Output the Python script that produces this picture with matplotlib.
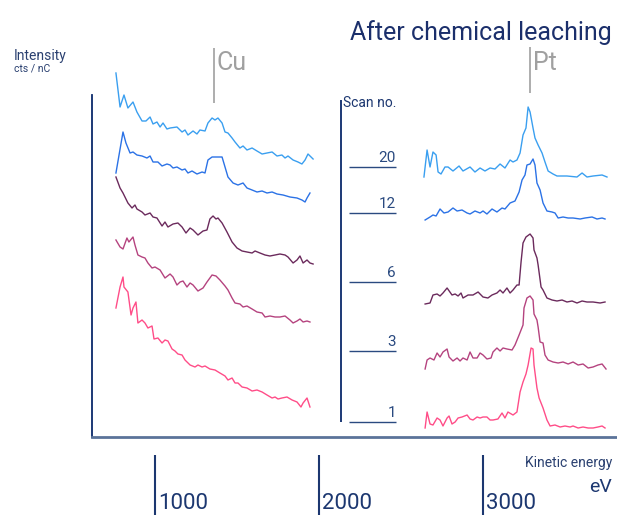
import numpy as np
import matplotlib
matplotlib.use('Agg')
import matplotlib.pyplot as plt

plt.rcParams['font.family'] = ['Roboto', 'DejaVu Sans']

# scan numbers, colours and vertical offsets (cts/nC) of the stacked spectra
scans = ['20', '12', '6', '3', '1']
colors = ['#3a9ff0', '#2b72e6', '#6b2a5c', '#b5437f', '#ff4d88']
offsets = [265, 222, 153, 84, 15]
label_levels = [270, 224, 155, 86, 15]

# Cu region, kinetic energy (eV) / intensity
cu_e20 = [762, 787, 811, 835, 866, 890, 921, 945, 970, 988, 1012, 1031, 1049, 1073, 1092, 1134, 1165, 1183, 1201, 1232,
          1256, 1274, 1305, 1323, 1348, 1366, 1384, 1409, 1427, 1445, 1470, 1488, 1518, 1537, 1561, 1592, 1622, 1653, 1683, 1714,
          1744, 1774, 1793, 1811, 1842, 1872, 1896, 1915, 1933, 1964]
cu_i20 = [99, 65, 77, 64, 70, 60, 51, 51, 55, 48, 50, 45, 49, 43, 44, 45, 40, 42, 37, 41,
          38, 42, 41, 49, 54, 52, 54, 49, 40, 39, 34, 30, 24, 26, 22, 24, 21, 18, 19, 20,
          16, 17, 14, 16, 12, 10, 8, 12, 18, 13]

cu_e12 = [762, 805, 823, 848, 866, 890, 921, 951, 970, 988, 1018, 1043, 1073, 1092, 1110, 1134, 1165, 1183, 1201, 1226,
          1256, 1287, 1305, 1323, 1348, 1378, 1409, 1427, 1445, 1476, 1506, 1537, 1561, 1592, 1622, 1653, 1683, 1714, 1744, 1781,
          1823, 1866, 1896, 1915, 1927, 1945]
cu_i12 = [42, 83, 72, 62, 63, 60, 59, 57, 59, 53, 53, 49, 51, 50, 47, 48, 45, 46, 42, 44,
          41, 43, 42, 55, 58, 58, 58, 48, 38, 32, 30, 32, 27, 25, 23, 24, 22, 23, 21, 20,
          18, 17, 15, 13, 17, 22]

cu_e6 = [762, 787, 805, 835, 860, 878, 890, 921, 939, 970, 988, 1012, 1043, 1061, 1079, 1110, 1140, 1165, 1189, 1214,
         1232, 1262, 1293, 1317, 1335, 1354, 1372, 1384, 1409, 1439, 1470, 1500, 1531, 1561, 1592, 1610, 1640, 1671, 1701, 1732,
         1762, 1793, 1811, 1842, 1866, 1884, 1903, 1927, 1945, 1964]
cu_i6 = [107, 96, 91, 81, 76, 79, 75, 72, 69, 71, 67, 66, 58, 62, 57, 60, 61, 57, 51, 56,
         54, 49, 53, 54, 65, 68, 65, 66, 61, 52, 42, 36, 33, 32, 31, 33, 31, 29, 28, 29,
         30, 29, 27, 21, 24, 28, 21, 24, 21, 20]

cu_e3 = [762, 787, 805, 829, 841, 866, 878, 896, 921, 939, 957, 982, 1000, 1031, 1061, 1092, 1110, 1134, 1153, 1171,
         1195, 1214, 1232, 1262, 1293, 1317, 1348, 1372, 1396, 1427, 1445, 1470, 1488, 1518, 1537, 1561, 1592, 1622, 1653, 1671,
         1701, 1732, 1762, 1793, 1823, 1842, 1866, 1884, 1903, 1927, 1945]
cu_i3 = [113, 106, 104, 115, 111, 116, 108, 98, 96, 95, 90, 85, 86, 83, 75, 79, 76, 68, 71, 72,
         66, 70, 68, 62, 65, 71, 78, 77, 73, 67, 63, 55, 50, 49, 46, 47, 44, 41, 40, 36,
         37, 36, 36, 37, 33, 30, 32, 34, 31, 32, 31]

cu_e1 = [762, 787, 805, 811, 835, 854, 866, 884, 896, 921, 939, 957, 982, 994, 1018, 1043, 1061, 1079, 1104, 1122,
         1140, 1165, 1183, 1214, 1244, 1262, 1287, 1305, 1335, 1366, 1396, 1427, 1445, 1470, 1488, 1506, 1531, 1561, 1592, 1622,
         1653, 1683, 1714, 1732, 1750, 1774, 1805, 1836, 1866, 1890, 1903, 1927, 1945]
cu_i1 = [114, 135, 145, 135, 130, 107, 114, 120, 99, 102, 99, 94, 96, 83, 84, 79, 82, 81, 73, 71,
         68, 67, 62, 57, 55, 57, 55, 56, 53, 52, 49, 46, 42, 44, 39, 39, 35, 34, 31, 32,
         30, 27, 24, 25, 23, 24, 25, 22, 20, 15, 19, 24, 15]

# Pt region
pt_e20 = [2640, 2659, 2677, 2695, 2714, 2726, 2744, 2768, 2787, 2817, 2854, 2878, 2921, 2951, 2982, 3012, 3043, 3073, 3104, 3134,
          3165, 3183, 3207, 3226, 3244, 3262, 3275, 3287, 3305, 3317, 3336, 3360, 3378, 3397, 3427, 3451, 3512, 3573, 3604, 3634,
          3671, 3726, 3756]
pt_i20 = [-5, 22, 5, 20, 17, 0, -2, 5, 5, 1, 6, 1, 5, 0, 4, 1, 4, 3, 8, 4,
          12, 10, 12, 19, 37, 44, 65, 60, 44, 34, 27, 19, 10, 1, -2, -4, -4, -5, -1, -5,
          -4, -3, -5]

pt_e12 = [2647, 2677, 2695, 2714, 2738, 2762, 2787, 2817, 2842, 2872, 2903, 2921, 2951, 2982, 3000, 3024, 3055, 3085, 3116, 3134,
          3165, 3195, 3220, 3238, 3256, 3268, 3287, 3305, 3317, 3329, 3348, 3366, 3390, 3421, 3439, 3458, 3488, 3519, 3549, 3592,
          3622, 3665, 3695, 3726, 3744]
pt_i12 = [-5, -2, 0, -1, 6, 2, 3, 7, 4, 5, 2, 1, 4, 2, 4, 1, 6, 3, 7, 6,
          12, 14, 23, 35, 40, 50, 51, 56, 50, 32, 25, 12, 4, 3, 2, -3, -2, -3, -3, -4,
          -3, -2, -4, -3, -4]

pt_e6 = [2647, 2677, 2695, 2720, 2738, 2756, 2781, 2811, 2830, 2848, 2866, 2878, 2909, 2939, 2970, 3000, 3030, 3055, 3085, 3104,
         3122, 3146, 3165, 3183, 3207, 3220, 3232, 3244, 3262, 3287, 3305, 3311, 3329, 3336, 3354, 3366, 3390, 3421, 3451, 3482,
         3512, 3543, 3573, 3604, 3634, 3671, 3714, 3744]
pt_i6 = [-20, -19, -11, -10, -12, -9, -4, -11, -10, -12, -9, -14, -11, -11, -8, -13, -14, -11, -9, -6,
         -9, -4, -9, -6, -1, -1, 22, 41, 47, 50, 46, 34, 26, 19, -3, -6, -14, -16, -17, -16,
         -18, -17, -19, -17, -18, -18, -19, -18]

pt_e3 = [2647, 2659, 2677, 2701, 2720, 2738, 2756, 2781, 2793, 2817, 2842, 2860, 2878, 2903, 2921, 2939, 2964, 2982, 3000, 3024,
         3049, 3061, 3085, 3104, 3122, 3146, 3177, 3195, 3220, 3244, 3250, 3268, 3287, 3305, 3311, 3329, 3336, 3348, 3366, 3378,
         3397, 3427, 3458, 3488, 3519, 3549, 3580, 3610, 3641, 3671, 3701, 3726, 3750]
pt_i3 = [-16, -7, -5, -7, 0, -4, 1, 4, -4, -8, -5, -8, -5, -7, 1, -5, -5, 0, -2, -6,
         -5, 1, 5, 2, 5, 4, 3, 8, 18, 28, 45, 55, 57, 53, 39, 33, 26, 11, 10, -2,
         -7, -9, -10, -9, -11, -9, -12, -11, -15, -14, -12, -11, -16]

pt_e1 = [2647, 2659, 2677, 2695, 2720, 2738, 2756, 2781, 2793, 2811, 2830, 2848, 2872, 2903, 2921, 2939, 2964, 2982, 3000, 3024,
         3043, 3061, 3091, 3116, 3134, 3152, 3183, 3207, 3226, 3244, 3262, 3275, 3293, 3305, 3311, 3329, 3342, 3366, 3390, 3409,
         3439, 3470, 3500, 3531, 3549, 3580, 3610, 3641, 3671, 3701, 3726, 3744]
pt_i1 = [-6, 10, -2, -3, 4, 2, -4, 4, 6, -2, 0, 4, 5, 7, 3, 2, 5, 4, 5, 5,
         2, 2, 3, 9, 4, 10, 7, 10, 30, 40, 48, 57, 74, 73, 57, 34, 24, 14, 2, -4,
         -3, -5, -4, -5, -4, -6, -5, -6, -6, -5, -4, -6]

ticks = [1000, 2000, 3000]

cu_spectra = [(cu_e20, cu_i20), (cu_e12, cu_i12), (cu_e6, cu_i6), (cu_e3, cu_i3), (cu_e1, cu_i1)]
pt_spectra = [(pt_e20, pt_i20), (pt_e12, pt_i12), (pt_e6, pt_i6), (pt_e3, pt_i3), (pt_e1, pt_i1)]

navy = '#1c3770'
fig = plt.figure(figsize=(6.17, 5.16), dpi=100)
ax = fig.add_axes([92 / 617, 79 / 516, 525 / 617, 342 / 516])
ax.set_xlim(616, 3817)
ax.set_ylim(0, 342)

for (ce, ci), (pe, pi), off, col in zip(cu_spectra, pt_spectra, offsets, colors):
    ax.plot(ce, np.array(ci) + off, color=col, lw=1.0, clip_on=False)
    ax.plot(pe, np.array(pi) + off, color=col, lw=1.0, clip_on=False)

ax.set_xticks([])
ax.set_yticks([])
ax.spines['top'].set_visible(False)
ax.spines['right'].set_visible(False)
ax.spines['left'].set_color('#0b2a6b')
ax.spines['left'].set_linewidth(1.3)
ax.spines['bottom'].set_color('#5b7399')
ax.spines['bottom'].set_linewidth(2)

# energy scale below the frame
tr = ax.get_xaxis_transform()
ax.vlines(ticks, -0.053, -0.228, transform=tr, color=navy, lw=1.5, clip_on=False)
for t in ticks:
    ax.text(t + 18, -0.226, str(t), transform=tr, ha='left', va='bottom',
            fontsize=16, color=navy, clip_on=False)

# scan number column
ax.vlines(2134, 15, 337, color='#0b2a6b', lw=1.3)
ax.text(2146, 334, 'Scan no.', ha='left', va='center', fontsize=10, color=navy)
for s, lev in zip(scans, label_levels):
    ax.hlines(lev, 2183, 2470, color='#2a4a80', lw=1.0)
    ax.text(2470, lev + 2, s, ha='right', va='bottom', fontsize=11, color='#2a4a80')

# element markers
ax.vlines(1360, 334, 389, color='#a0a0a0', lw=1.2, clip_on=False)
ax.text(1378, 367, 'Cu', ha='left', va='baseline', fontsize=18, color='#a0a0a0', clip_on=False)
ax.vlines(3287, 344, 390, color='#a0a0a0', lw=1.2, clip_on=False)
ax.text(3305, 367, 'Pt', ha='left', va='baseline', fontsize=18, color='#a0a0a0', clip_on=False)

fig.text(612 / 617, 1 - 40 / 516, 'After chemical leaching', ha='right', va='baseline',
         fontsize=18, color='#1b2f6b')
fig.text(14 / 617, 1 - 60 / 516, 'Intensity', ha='left', va='baseline', fontsize=10, color='#2a4070')
fig.text(14 / 617, 1 - 72 / 516, 'cts / nC', ha='left', va='baseline', fontsize=7.5, color='#2a4070')
fig.text(612 / 617, 1 - 467 / 516, 'Kinetic energy', ha='right', va='baseline', fontsize=10, color='#2a4070')
fig.text(612 / 617, 1 - 492 / 516, 'eV', ha='right', va='baseline', fontsize=14, color=navy)

fig.savefig('out.png', dpi=100)
